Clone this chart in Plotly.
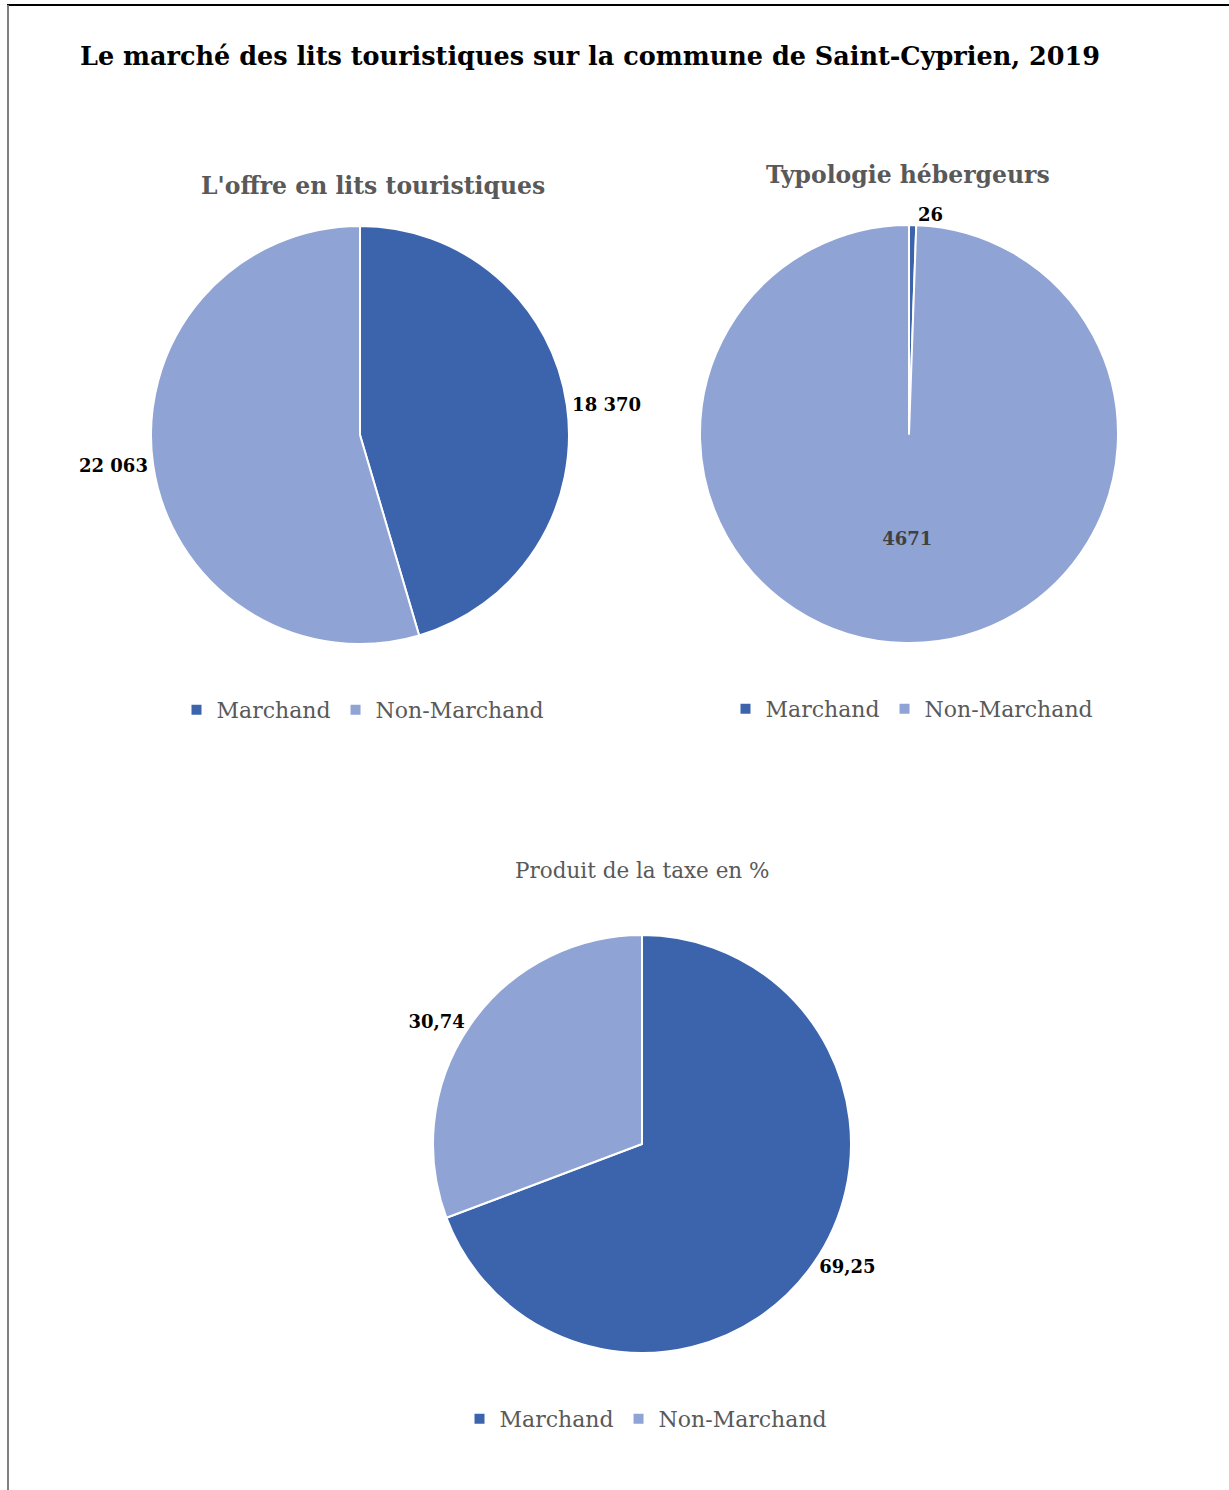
import plotly.graph_objects as go

categories = ["Marchand", "Non-Marchand"]
lits = [18370, 22063]
hebergeurs = [26, 4671]
taxe = [69.25, 30.74]

lits_text = ["18 370", "22 063"]
heb_text = ["26", "4671"]
taxe_text = ["69,25", "30,74"]

colors = ["#3C64AD", "#8FA3D4"]
W, H = 1229, 1490
FONT = "DejaVu Serif"


def dom(cx, cy, r):
    # square domain around a pie center, in pixels -> paper
    return dict(x=[(cx - r) / W, (cx + r) / W], y=[1 - (cy + r) / H, 1 - (cy - r) / H])


def lab(suffix):
    # pies sharing labels merge their legend items, so make each set unique
    return [c + suffix for c in categories]


label_font = dict(family=FONT, size=18, color="black", weight="bold")

fig = go.Figure()

fig.add_trace(go.Pie(
    labels=lab(""), values=lits, text=lits_text, textinfo="text",
    textposition="outside", sort=False, direction="clockwise",
    marker=dict(colors=colors, line=dict(color="white", width=2)),
    textfont=label_font,
    domain=dom(360, 435, 209), legend="legend", hoverinfo="label+value",
))

fig.add_trace(go.Pie(
    labels=lab("\u200b"), values=hebergeurs, text=heb_text, textinfo="text",
    textposition=["outside", "inside"], sort=False, direction="clockwise",
    marker=dict(colors=colors, line=dict(color="white", width=2)),
    textfont=label_font,
    insidetextfont=dict(family=FONT, size=18, color="#404040", weight="bold"),
    insidetextorientation="horizontal",
    domain=dom(909, 434, 209), legend="legend2", hoverinfo="label+value",
))

fig.add_trace(go.Pie(
    labels=lab("\u200b\u200b"), values=taxe, text=taxe_text, textinfo="text",
    textposition="outside", sort=False, direction="clockwise",
    marker=dict(colors=colors, line=dict(color="white", width=2)),
    textfont=label_font,
    domain=dom(642, 1144, 209), legend="legend3", hoverinfo="label+value",
))

leg = dict(orientation="h", xanchor="center", yanchor="middle",
           font=dict(family=FONT, size=22, color="#595959"),
           bgcolor="rgba(0,0,0,0)", itemwidth=30, traceorder="normal")


def note(text, x, y, size, color):
    return dict(text=text, x=x / W, y=1 - y / H, xref="paper", yref="paper",
                xanchor="center", yanchor="middle", showarrow=False,
                font=dict(family=FONT, size=size, color=color))


fig.update_layout(
    width=W, height=H,
    margin=dict(l=0, r=0, t=0, b=0),
    paper_bgcolor="white", plot_bgcolor="white",
    font=dict(family=FONT),
    legend=dict(leg, x=363 / W, y=1 - 710 / H),
    legend2=dict(leg, x=912 / W, y=1 - 709 / H),
    legend3=dict(leg, x=646 / W, y=1 - 1419 / H),
    annotations=[
        note("<b>Le marché des lits touristiques sur la commune de Saint-Cyprien, 2019</b>",
             590, 56, 25.5, "black"),
        note("<b>L'offre en lits touristiques</b>", 373, 186, 23.5, "#595959"),
        note("<b>Typologie hébergeurs</b>", 908, 175, 23.5, "#595959"),
        note("Produit de la taxe en %", 642, 870, 21.5, "#595959"),
    ],
    shapes=[
        dict(type="line", xref="paper", yref="paper", x0=7 / W, x1=1, y0=1 - 5 / H, y1=1 - 5 / H,
             line=dict(color="black", width=2)),
        dict(type="line", xref="paper", yref="paper", x0=8 / W, x1=8 / W, y0=0, y1=1 - 5 / H,
             line=dict(color="#7f7f7f", width=2)),
    ],
)

fig.write_html("out.html", config={"displayModeBar": False},
               post_script="document.body.style.margin='0';")
